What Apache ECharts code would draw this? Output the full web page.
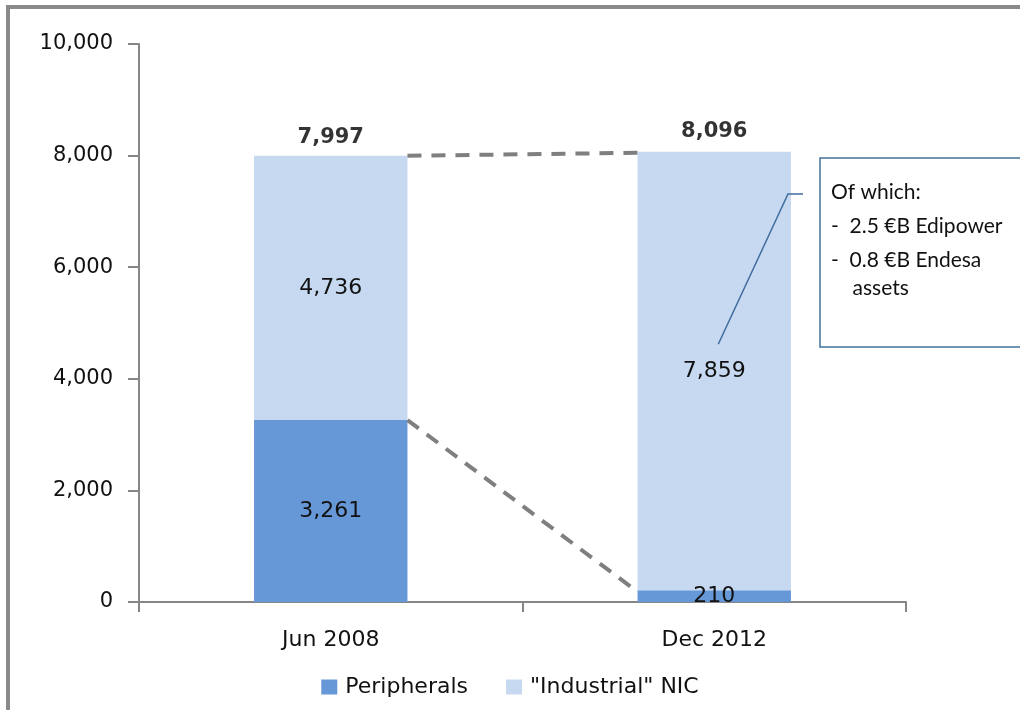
<!DOCTYPE html>
<html>
<head>
<meta charset="utf-8">
<script src="https://cdn.jsdelivr.net/npm/echarts@6/dist/echarts.min.js"></script>
<style>
  html, body { margin: 0; padding: 0; background: #ffffff; }
  #chart { width: 1020px; height: 710px; }
</style>
</head>
<body>
<div id="chart"></div>
<script>
// Net invested capital by period (millions)
const categories = ['Jun 2008', 'Dec 2012'];
const peripherals = [3261, 210];
const industrialNIC = [4736, 7859];
const totals = [7997, 8096];
const yTicks = { min: 0, max: 10000, interval: 2000 };
const calloutLines = ['Of which:', '-  2.5 €B Edipower', '-  0.8 €B Endesa', '    assets'];

const FONT = 'DejaVu Sans';
const TEXT = '#111111';
const GRID = { left: 139, right: 114, top: 44, bottom: 108 };
const BAR_FRACTION = 0.4;

const chart = echarts.init(document.getElementById('chart'), null, { renderer: 'canvas' });

const labelFmt = p => p.value.toLocaleString('en-US');

chart.setOption({
  animation: false,
  backgroundColor: '#ffffff',
  grid: GRID,
  legend: {
    bottom: 7,
    left: 'center',
    icon: 'rect',
    itemWidth: 16,
    itemHeight: 15,
    itemGap: 38,
    textStyle: { fontFamily: FONT, fontSize: 22, color: TEXT, padding: [0, 0, 0, 3] },
    data: ['Peripherals', '"Industrial" NIC']
  },
  xAxis: {
    type: 'category',
    data: categories,
    axisLine: { lineStyle: { color: '#868686', width: 2 } },
    axisTick: { show: true, inside: false, length: 10, lineStyle: { color: '#868686', width: 2 } },
    axisLabel: { fontFamily: FONT, fontSize: 22, color: TEXT, margin: 27 }
  },
  yAxis: {
    type: 'value',
    min: yTicks.min,
    max: yTicks.max,
    interval: yTicks.interval,
    splitLine: { show: false },
    axisLine: { show: true, lineStyle: { color: '#868686', width: 2 } },
    axisTick: { show: true, inside: false, length: 11, lineStyle: { color: '#868686', width: 2 } },
    axisLabel: {
      fontFamily: FONT, fontSize: 21, color: TEXT, margin: 26,
      formatter: v => v.toLocaleString('en-US')
    }
  },
  series: [
    {
      name: 'Peripherals',
      type: 'bar',
      stack: 'nic',
      barWidth: (BAR_FRACTION * 100) + '%',
      data: peripherals,
      itemStyle: { color: '#6698D8' },
      label: {
        show: true, position: 'inside', formatter: labelFmt,
        fontFamily: FONT, fontSize: 22, color: TEXT
      },
      z: 2
    },
    {
      name: '"Industrial" NIC',
      type: 'bar',
      stack: 'nic',
      barWidth: (BAR_FRACTION * 100) + '%',
      data: industrialNIC,
      itemStyle: { color: '#C6D9F0' },
      label: {
        show: true, position: 'inside', formatter: labelFmt,
        fontFamily: FONT, fontSize: 22, color: TEXT
      },
      z: 2
    },
    {
      name: 'Total',
      type: 'scatter',
      data: totals,
      symbolSize: 0,
      silent: true,
      itemStyle: { color: '#000000' },
      label: {
        show: true, position: 'top', distance: 8, formatter: labelFmt,
        fontFamily: FONT, fontSize: 21, fontWeight: 'bold', color: '#000000'
      },
      z: 3
    }
  ]
});

// Connector lines and the callout box, placed through the chart's own axes
function drawOverlays() {
  const px = (cat, val) => chart.convertToPixel({ xAxisIndex: 0, yAxisIndex: 0 }, [cat, val]);
  const band = px(categories[1], 0)[0] - px(categories[0], 0)[0];
  const half = band * BAR_FRACTION / 2;

  const topA = px(categories[0], totals[0]);
  const topB = px(categories[1], peripherals[1] + industrialNIC[1]);
  const midA = px(categories[0], peripherals[0]);
  const midB = px(categories[1], peripherals[1]);

  const dash = { stroke: '#7f7f7f', lineWidth: 4, lineDash: [14, 10] };

  const pointer = px(categories[1], 4620);
  const boxX = 820, boxY = 158, boxW = 220, boxH = 189;
  const elbowY = 194;

  const graphics = [
    {
      type: 'rect', silent: true, z: 0,
      shape: { x: 8, y: 7, width: 1200, height: 900 },
      style: { fill: 'none', stroke: '#8a8a8a', lineWidth: 4 }
    },
    {
      type: 'line', silent: true, z: 10,
      shape: { x1: topA[0] + half, y1: topA[1], x2: topB[0] - half, y2: topB[1] + 1 },
      style: dash
    },
    {
      type: 'line', silent: true, z: 10,
      shape: { x1: midA[0] + half, y1: midA[1], x2: midB[0] - half - 2, y2: midB[1] },
      style: dash
    },
    {
      type: 'polyline', silent: true, z: 10,
      shape: { points: [[pointer[0] + 4, pointer[1]], [788, elbowY], [803, elbowY]] },
      style: { stroke: '#3F6C9E', lineWidth: 1.5, fill: 'none' }
    },
    {
      type: 'rect', silent: true, z: 10,
      shape: { x: boxX, y: boxY, width: boxW, height: boxH },
      style: { fill: '#ffffff', stroke: '#41719C', lineWidth: 1.5 }
    }
  ];

  const lineYs = [192, 226, 260, 288];
  calloutLines.forEach((t, i) => {
    graphics.push({
      type: 'text', silent: true, z: 11,
      x: 831, y: lineYs[i],
      style: {
        text: t, fill: '#111111', fontFamily: 'Lato', fontSize: 21,
        verticalAlign: 'middle', align: 'left'
      }
    });
  });

  chart.setOption({ graphic: graphics });
}

drawOverlays();
</script>
</body>
</html>
